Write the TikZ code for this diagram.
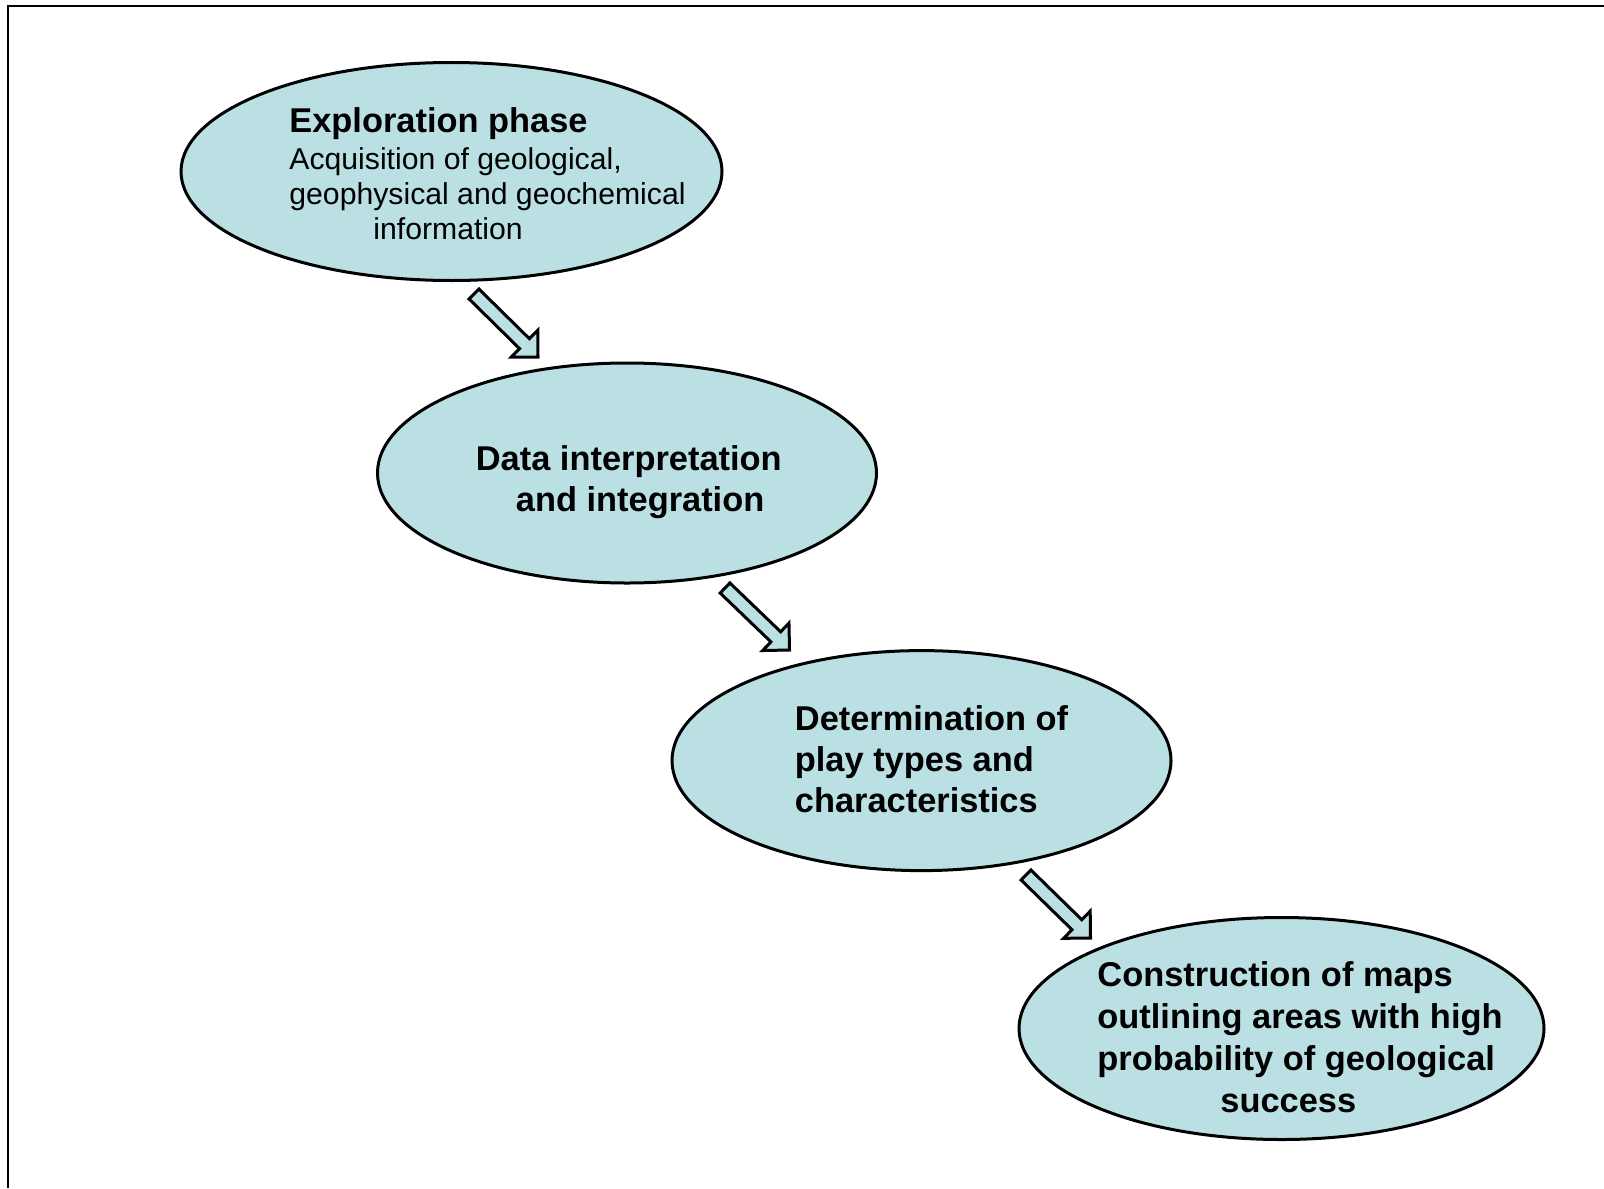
\documentclass[tikz,border=0pt]{standalone}
\usepackage{fontspec}
\setmainfont{Liberation Sans}
\usetikzlibrary{calc,shapes.geometric}
\definecolor{fillblue}{RGB}{186,224,228}
\tikzset{
  bubble/.style={ellipse, draw=black, line width=1.5pt, fill=fillblue, inner sep=0pt, outer sep=0pt},
  headtext/.style={font=\bfseries\fontsize{17.2pt}{20.5pt}\selectfont, align=left, anchor=north west, inner sep=0pt},
  bodytext/.style={font=\fontsize{15.1pt}{17.5pt}\selectfont, align=left, anchor=north west, inner sep=0pt},
  blockarr/.style={draw=black, line width=1.5pt, fill=fillblue, line join=miter},
  frameline/.style={draw=black, line width=1pt}
}
\newcommand\blockarrow[2]{%
  \coordinate (#1hb) at ($(#2)!9.5pt!(#1)$);
  \draw[blockarr] ($(#1)!3.5pt!90:(#2)$) -- ($(#1hb)!3.5pt!90:(#2)$) -- ($(#1hb)!9.5pt!90:(#2)$) -- (#2)
    -- ($(#1hb)!9.5pt!-90:(#2)$) -- ($(#1hb)!3.5pt!-90:(#2)$) -- ($(#1)!3.5pt!-90:(#2)$) -- cycle;}
\begin{document}
\begin{tikzpicture}[x=0.5pt,y=-0.5pt]
\useasboundingbox (0,0) rectangle (1604,1188);
\coordinate (fbl) at (8.3,1188);
\coordinate (ftl) at (8.3,6.3);
\coordinate (ftr) at (1604,6.3);
\draw[frameline] (fbl) -- (ftl) -- (ftr);

\node[bubble, minimum width=270.5pt, minimum height=109pt] (e1) at (451.5,171.5) {};
\node[bubble, minimum width=249.5pt, minimum height=110pt] (e2) at (627,473) {};
\node[bubble, minimum width=249.5pt, minimum height=110pt] (e3) at (921.5,760.6) {};
\node[bubble, minimum width=262.5pt, minimum height=111pt] (e4) at (1281.5,1028.5) {};

\node[bodytext] (t1) at (289,104) {\rule{0pt}{14pt}{\bfseries\fontsize{17.2pt}{17.5pt}\selectfont Exploration phase}\\[1pt]Acquisition of geological,\\geophysical and geochemical\\\hspace*{42pt}information};
\node[headtext] (t2) at (475.5,442) {\rule{0pt}{14pt}Data interpretation\\\hspace*{20pt}and integration};
\node[headtext] (t3) at (794.5,702) {\rule{0pt}{14pt}Determination of\\play types and\\characteristics};
\node[headtext, font=\bfseries\fontsize{17.2pt}{21pt}\selectfont] (t4) at (1097,958.5) {\rule{0pt}{14pt}Construction of maps\\outlining areas with high\\probability of geological\\\hspace*{61.5pt}success};

\coordinate (a1s) at (474,294);
\coordinate (a1e) at (538,357);
\coordinate (a2s) at (725,588);
\coordinate (a2e) at (789.5,650);
\coordinate (a3s) at (1026,875);
\coordinate (a3e) at (1090.5,938);
\blockarrow{a1s}{a1e}
\blockarrow{a2s}{a2e}
\blockarrow{a3s}{a3e}
\end{tikzpicture}
\end{document}
